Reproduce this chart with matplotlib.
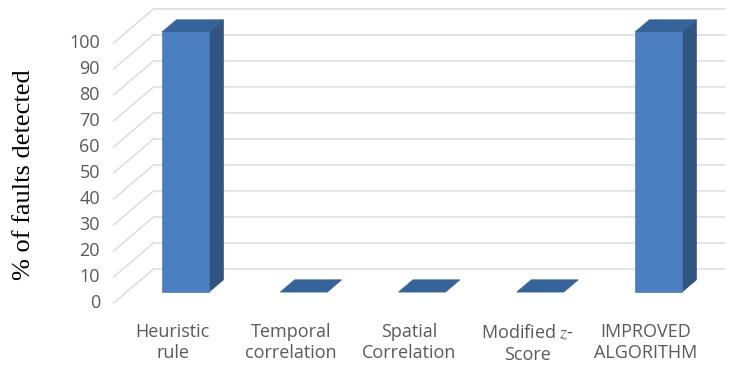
import matplotlib
matplotlib.use('Agg')
import matplotlib.pyplot as plt
from matplotlib.patches import Polygon

categories = ["Heuristic\nrule", "Temporal\ncorrelation", "Spatial\nCorrelation",
              "Modified $z$-\nScore", "IMPROVED\nALGORITHM"]
values = [100, 0, 0, 0, 100]
yticks = [0, 10, 20, 30, 40, 50, 60, 70, 80, 90, 100]
ylabel = "% of faults detected"

plt.rcParams['mathtext.fontset'] = 'stix'

FRONT = '#4A7EBE'
SIDE = '#2F5580'
TOP = '#36639A'
GRID = '#D9D9D9'
TXT = '#595959'

fig = plt.figure(figsize=(7.35, 3.69), dpi=100)
ax = fig.add_axes([0, 0, 1, 1])
ax.set_xlim(-1.4605, 4.755)
ax.set_ylim(-25.4, 116.5)
ax.axis('off')

DX = 40 / 118.25
DY = 34 / 2.6
WALL_L = -0.5
WALL_R = 4.33


def P(x, v, d):
    return (x + d * DX, v + d * DY)


# gridlines: side wall diagonals and back wall
for t in yticks:
    a = P(WALL_L, t, 0)
    b = P(WALL_L, t, 1)
    c = P(WALL_R, t, 1)
    ax.plot([a[0], b[0], c[0]], [a[1], b[1], c[1]], color=GRID, lw=1.0, zorder=1,
            solid_joinstyle='miter')
    ax.text(WALL_L - 0.115, t, str(t), ha='right', va='center', color=TXT,
            fontsize=13, family='Open Sans')

# bars
w = 23.5 / 118.25
df, db = 0.32, 0.68
for i, v in enumerate(values):
    if v > 0:
        side = [P(i + w, 0, df), P(i + w, 0, db), P(i + w, v, db), P(i + w, v, df)]
        ax.add_patch(Polygon(side, closed=True, fc=SIDE, ec=SIDE, lw=0.5, zorder=3))
        front = [P(i - w, 0, df), P(i + w, 0, df), P(i + w, v, df), P(i - w, v, df)]
        ax.add_patch(Polygon(front, closed=True, fc=FRONT, ec=FRONT, lw=0.5, zorder=4))
    top = [P(i - w, v, df), P(i + w, v, df), P(i + w, v, db), P(i - w, v, db)]
    ax.add_patch(Polygon(top, closed=True, fc=TOP, ec=TOP, lw=0.5, zorder=4))

for i, c in enumerate(categories):
    ax.text(i, -7.6, c, ha='center', va='top', color=TXT, fontsize=13,
            family='Open Sans', linespacing=1.25)

fig.text(24 / 735, 1 - 175 / 369, ylabel, rotation=90, ha='center', va='center',
         fontsize=19, family='Liberation Serif', color='black')

fig.savefig('out.png', dpi=100)
